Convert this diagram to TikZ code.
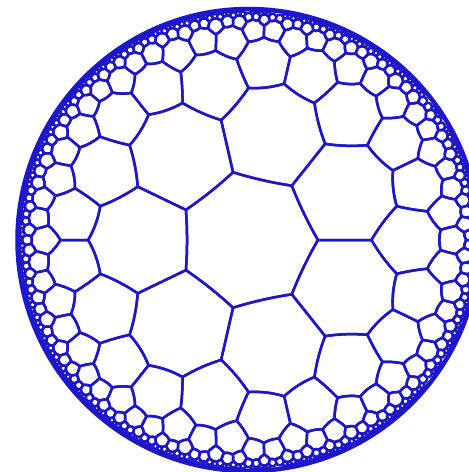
\documentclass[tikz,border=0pt]{standalone}
\usepackage{tikz}

\definecolor{tileblue}{RGB}{30,22,205}

\tikzset{
  tiling/.style={draw=tileblue, line width=2.5pt, line join=round, line cap=round},
  rim/.style={draw=tileblue, line width=4.5pt}
}

% outline of one heptagon, path in disk units
\newcommand\drawtile[1]{\draw[tiling] #1;}

\ExplSyntaxOn
\int_new:N \g_hep_count_int
\int_new:N \l_hep_head_int
\bool_new:N \l_hep_line_bool
\tl_new:N \l_hep_path_tl
\tl_new:N \l_hep_key_tl
\clist_map_inline:nn
  { px, py, qx, qy, det, a, b, Cx, Cy, rr, ux, uy, mx, my, f, Tx, Ty, size, wx, wy }
  { \fp_new:c { l_hep_#1_fp } }

% vertex radius of the {7,3} tiling, and size below which tiles are not grown
\fp_const:Nn \c_hep_rho_fp
  { sqrt( (cot(pi/7)*cot(pi/3) - 1) / (cot(pi/7)*cot(pi/3) + 1) ) }
\fp_const:Nn \c_hep_grow_fp { 0.015 }

\cs_new:Npn \hep_x:nn #1#2 { \use:c { g_hep_#1_x#2_fp } }
\cs_new:Npn \hep_y:nn #1#2 { \use:c { g_hep_#1_y#2_fp } }
\cs_new:Npn \hep_pt:nn #1#2
  { ( \fp_to_decimal:n { round(#1,5) } , \fp_to_decimal:n { round(#2,5) } ) }
\cs_new:Npn \hep_key:nn #1#2
  { hep@seen@ \fp_eval:n { round(10000*(#1)+100000) } @ \fp_eval:n { round(10000*(#2)+100000) } }

\cs_new_protected:Npn \hep_store:nnnn #1#2#3#4
  {
    \fp_gzero_new:c { g_hep_#1_x#2_fp }
    \fp_gzero_new:c { g_hep_#1_y#2_fp }
    \fp_gset:cn { g_hep_#1_x#2_fp } {#3}
    \fp_gset:cn { g_hep_#1_y#2_fp } {#4}
  }

% central heptagon (index 7 = centre)
\cs_new_protected:Npn \hep_seed:
  {
    \int_gset:Nn \g_hep_count_int { 1 }
    \int_step_inline:nnn { 0 } { 6 }
      {
        \hep_store:nnnn { 1 } {##1}
          { \c_hep_rho_fp * cos(2*pi*##1/7) } { \c_hep_rho_fp * sin(2*pi*##1/7) }
      }
    \hep_store:nnnn { 1 } { 7 } { 0 } { 0 }
    \cs_gset:cpn { \hep_key:nn {0} {0} } { 1 }
  }

% mirror a point in the current geodesic
\cs_new_protected:Npn \hep_reflect:nn #1#2
  {
    \bool_if:NTF \l_hep_line_bool
      {
        \fp_set:Nn \l_hep_f_fp { 2*((#1)*\l_hep_ux_fp + (#2)*\l_hep_uy_fp) }
        \fp_set:Nn \l_hep_wx_fp { \l_hep_f_fp * \l_hep_ux_fp - (#1) }
        \fp_set:Nn \l_hep_wy_fp { \l_hep_f_fp * \l_hep_uy_fp - (#2) }
      }
      {
        \fp_set:Nn \l_hep_mx_fp { (#1) - \l_hep_Cx_fp }
        \fp_set:Nn \l_hep_my_fp { (#2) - \l_hep_Cy_fp }
        \fp_set:Nn \l_hep_f_fp { \l_hep_rr_fp / (\l_hep_mx_fp^2 + \l_hep_my_fp^2) }
        \fp_set:Nn \l_hep_wx_fp { \l_hep_Cx_fp + \l_hep_f_fp * \l_hep_mx_fp }
        \fp_set:Nn \l_hep_wy_fp { \l_hep_Cy_fp + \l_hep_f_fp * \l_hep_my_fp }
      }
  }

% edge #2--#3 of tile #1: add the arc to the path, make the neighbour
\cs_new_protected:Npn \hep_edge:nnn #1#2#3
  {
    \fp_set:Nn \l_hep_px_fp { \hep_x:nn {#1} {#2} }
    \fp_set:Nn \l_hep_py_fp { \hep_y:nn {#1} {#2} }
    \fp_set:Nn \l_hep_qx_fp { \hep_x:nn {#1} {#3} }
    \fp_set:Nn \l_hep_qy_fp { \hep_y:nn {#1} {#3} }
    \fp_set:Nn \l_hep_det_fp { \l_hep_px_fp * \l_hep_qy_fp - \l_hep_py_fp * \l_hep_qx_fp }
    \fp_compare:nNnTF { abs(\l_hep_det_fp) } < { 1e-9 }
      {
        \bool_set_true:N \l_hep_line_bool
        \fp_set:Nn \l_hep_f_fp { sqrt(\l_hep_px_fp^2 + \l_hep_py_fp^2) }
        \fp_set:Nn \l_hep_ux_fp { \l_hep_px_fp / \l_hep_f_fp }
        \fp_set:Nn \l_hep_uy_fp { \l_hep_py_fp / \l_hep_f_fp }
        \tl_put_right:Nx \l_hep_path_tl { ~--~ \hep_pt:nn { \l_hep_qx_fp } { \l_hep_qy_fp } }
      }
      {
        \bool_set_false:N \l_hep_line_bool
        \fp_set:Nn \l_hep_a_fp { (\l_hep_px_fp^2 + \l_hep_py_fp^2 + 1)/2 }
        \fp_set:Nn \l_hep_b_fp { (\l_hep_qx_fp^2 + \l_hep_qy_fp^2 + 1)/2 }
        \fp_set:Nn \l_hep_Cx_fp { (\l_hep_a_fp * \l_hep_qy_fp - \l_hep_b_fp * \l_hep_py_fp) / \l_hep_det_fp }
        \fp_set:Nn \l_hep_Cy_fp { (\l_hep_b_fp * \l_hep_px_fp - \l_hep_a_fp * \l_hep_qx_fp) / \l_hep_det_fp }
        \fp_set:Nn \l_hep_rr_fp { \l_hep_Cx_fp^2 + \l_hep_Cy_fp^2 - 1 }
        \fp_set:Nn \l_hep_mx_fp { (\l_hep_px_fp + \l_hep_qx_fp)/2 - \l_hep_Cx_fp }
        \fp_set:Nn \l_hep_my_fp { (\l_hep_py_fp + \l_hep_qy_fp)/2 - \l_hep_Cy_fp }
        \fp_set:Nn \l_hep_f_fp { \l_hep_rr_fp / (\l_hep_mx_fp^2 + \l_hep_my_fp^2) }
        \fp_set:Nn \l_hep_Tx_fp { \l_hep_Cx_fp + \l_hep_f_fp * \l_hep_mx_fp }
        \fp_set:Nn \l_hep_Ty_fp { \l_hep_Cy_fp + \l_hep_f_fp * \l_hep_my_fp }
        \tl_put_right:Nx \l_hep_path_tl
          {
            ~..~controls~
            \hep_pt:nn { (\l_hep_px_fp + 2*\l_hep_Tx_fp)/3 } { (\l_hep_py_fp + 2*\l_hep_Ty_fp)/3 }
            ~and~
            \hep_pt:nn { (\l_hep_qx_fp + 2*\l_hep_Tx_fp)/3 } { (\l_hep_qy_fp + 2*\l_hep_Ty_fp)/3 }
            ~..~
            \hep_pt:nn { \l_hep_qx_fp } { \l_hep_qy_fp }
          }
      }
    \hep_reflect:nn { \hep_x:nn {#1} {7} } { \hep_y:nn {#1} {7} }
    \tl_set:Nx \l_hep_key_tl { \hep_key:nn { \l_hep_wx_fp } { \l_hep_wy_fp } }
    \cs_if_exist:cF { \l_hep_key_tl }
      {
        \int_gincr:N \g_hep_count_int
        \cs_gset:cpx { \l_hep_key_tl } { \int_use:N \g_hep_count_int }
        \hep_store:nnnn { \int_use:N \g_hep_count_int } { 7 } { \l_hep_wx_fp } { \l_hep_wy_fp }
        \int_step_inline:nnn { 0 } { 6 }
          {
            \hep_reflect:nn { \hep_x:nn {#1} {##1} } { \hep_y:nn {#1} {##1} }
            \hep_store:nnnn { \int_use:N \g_hep_count_int } {##1} { \l_hep_wx_fp } { \l_hep_wy_fp }
          }
      }
  }

% draw tile #1; big tiles get curved edges and neighbours
\cs_new_protected:Npn \hep_tile:n #1
  {
    \fp_set:Nn \l_hep_size_fp
      { sqrt( (\hep_x:nn {#1} {0} - \hep_x:nn {#1} {7})^2 + (\hep_y:nn {#1} {0} - \hep_y:nn {#1} {7})^2 ) }
    \tl_set:Nx \l_hep_path_tl { \hep_pt:nn { \hep_x:nn {#1} {0} } { \hep_y:nn {#1} {0} } }
    \fp_compare:nNnTF { \l_hep_size_fp } > { \c_hep_grow_fp }
      {
        \int_step_inline:nnn { 0 } { 6 }
          { \hep_edge:nnn {#1} {##1} { \int_mod:nn { ##1 + 1 } { 7 } } }
      }
      {
        \int_step_inline:nnn { 1 } { 6 }
          { \tl_put_right:Nx \l_hep_path_tl { ~--~ \hep_pt:nn { \hep_x:nn {#1} {##1} } { \hep_y:nn {#1} {##1} } } }
        \tl_put_right:Nn \l_hep_path_tl { ~--~cycle }
      }
    \exp_args:NV \drawtile \l_hep_path_tl
  }

\cs_new_protected:Npn \hep_build:
  {
    \hep_seed:
    \int_set:Nn \l_hep_head_int { 1 }
    \int_while_do:nNnn { \l_hep_head_int } < { \g_hep_count_int + 1 }
      {
        \exp_args:NV \hep_tile:n \l_hep_head_int
        \int_incr:N \l_hep_head_int
      }
  }
\cs_new_eq:NN \buildtiling \hep_build:
\ExplSyntaxOff

\begin{document}
\begin{tikzpicture}[x=231pt, y=231pt]
    \useasboundingbox (-248.5pt,-232pt) rectangle (220.5pt,240pt);
    \clip (-248.5pt,-232pt) rectangle (220.5pt,240pt);

    % Heptagons
    \buildtiling

    % Rim
    \draw[rim] (0,0) circle (1);
\end{tikzpicture}
\end{document}
